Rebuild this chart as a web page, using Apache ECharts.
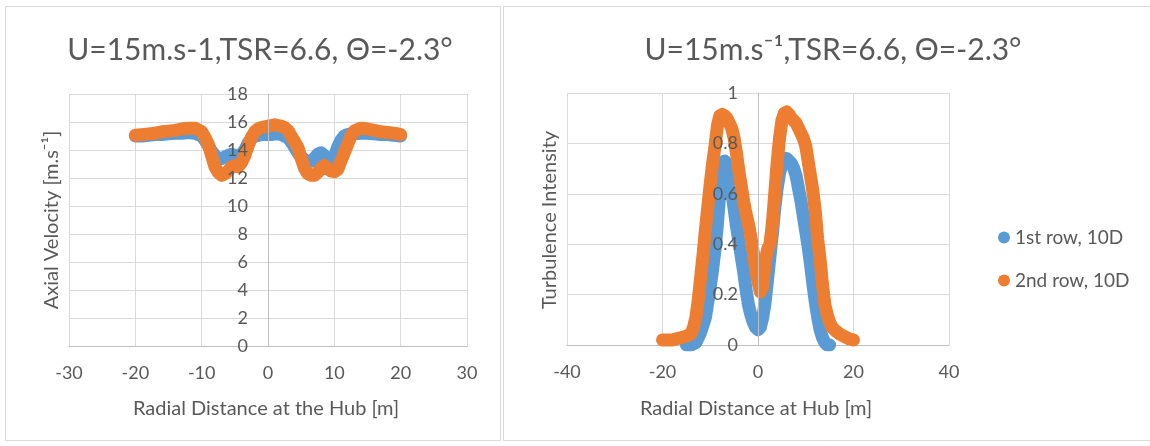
<!DOCTYPE html>
<html>
<head>
<meta charset="utf-8">
<script src="https://cdn.jsdelivr.net/npm/echarts@6/dist/echarts.min.js"></script>
<style>
html,body{margin:0;padding:0;background:#fff;}
#c{width:1150px;height:446px;}
</style>
</head>
<body>
<div id="c"></div>
<script>
// ---------- data ----------
const seriesNames = ['1st row, 10D', '2nd row, 10D'];

// Left chart: axial velocity vs radial distance
const velX = [-20,-19,-18,-17,-16,-15,-14,-13,-12,-11,
  -10,-9.5,-9,-8.5,-8,-7.5,-7,-6.5,-6,-5.5,-5,-4.5,-4,-3.5,-3,-2.5,-2,-1.5,-1,-0.5,
  0,0.5,1,1.5,2,2.5,3,3.5,4,4.5,5,5.5,6,6.5,7,7.5,8,8.5,9,9.5,10,10.5,11,11.5,12,12.5,13,
  14,15,16,17,18,19,20];
const velRow1 = [15.0,15.0,15.05,15.1,15.1,15.15,15.2,15.2,15.25,15.2,
  15.0,14.7,14.3,13.9,13.6,13.4,13.4,13.5,13.6,13.7,13.6,13.5,13.7,14.0,14.5,14.8,15.0,15.05,15.1,15.1,
  15.1,15.1,15.15,15.15,15.1,15.0,14.9,14.6,14.2,13.8,13.5,13.3,13.2,13.2,13.4,13.7,13.8,13.6,13.3,13.2,13.5,14.2,14.7,15.0,15.1,15.15,15.15,
  15.2,15.2,15.15,15.1,15.1,15.05,15.0];
const velRow2 = [15.05,15.1,15.15,15.2,15.3,15.35,15.4,15.5,15.55,15.55,
  15.3,14.9,14.4,13.6,12.8,12.4,12.2,12.3,12.5,12.8,12.9,12.8,13.1,13.6,14.3,14.9,15.3,15.5,15.6,15.65,
  15.7,15.75,15.8,15.75,15.7,15.6,15.4,15.0,14.6,14.2,13.4,12.7,12.3,12.2,12.2,12.4,12.7,12.9,12.7,12.5,12.45,12.6,13.2,13.8,14.4,15.0,15.35,
  15.55,15.5,15.4,15.3,15.25,15.2,15.1];

// Right chart: turbulence intensity vs radial distance
const tiX1 = [-15,-14.5,-14,-13.5,-13,-12.5,-12,-11.5,-11,-10.5,-10,-9.5,-9,-8.5,-8,-7.5,-7,-6.5,-6,-5.5,-5,-4.5,-4,-3.5,-3,-2.5,-2,-1.5,-1,-0.5,
  0,0.5,1,1.5,2,2.5,3,3.5,4,4.5,5,5.5,6,6.5,7,7.5,8,8.5,9,9.5,10,10.5,11,11.5,12,12.5,13,13.5,14,14.5,15];
const tiRow1 = [0,0,0,0.005,0.01,0.03,0.05,0.08,0.11,0.17,0.23,0.30,0.38,0.48,0.60,0.70,0.73,0.72,0.68,0.61,0.54,0.47,0.41,0.35,0.29,0.22,0.16,0.12,0.09,0.07,
  0.06,0.07,0.11,0.17,0.26,0.35,0.44,0.54,0.62,0.68,0.72,0.74,0.74,0.73,0.72,0.70,0.67,0.62,0.57,0.51,0.45,0.39,0.32,0.24,0.17,0.11,0.06,0.03,0.01,0,0];
const tiX2 = [-20,-19,-18,-17,-16,-15,
  -14.5,-14,-13.5,-13,-12.5,-12,-11.5,-11,-10.5,-10,-9.5,-9,-8.5,-8,-7.5,-7,-6.5,-6,-5.5,-5,-4.5,-4,-3.5,-3,-2.5,-2,-1.5,-1,-0.5,
  0,0.5,1,1.5,2,2.5,3,3.5,4,4.5,5,5.5,6,6.5,7,7.5,8,8.5,9,9.5,10,10.5,11,11.5,12,12.5,13,13.5,14,14.5,15,15.5,16,
  17,18,19,20];
const tiRow2 = [0.02,0.02,0.02,0.025,0.03,0.035,
  0.04,0.045,0.07,0.11,0.18,0.27,0.36,0.46,0.55,0.64,0.72,0.79,0.87,0.91,0.915,0.91,0.90,0.88,0.86,0.82,0.76,0.69,0.63,0.57,0.52,0.48,0.43,0.37,0.30,
  0.25,0.21,0.23,0.33,0.38,0.40,0.48,0.60,0.72,0.82,0.89,0.92,0.925,0.915,0.90,0.89,0.88,0.86,0.84,0.82,0.79,0.73,0.67,0.61,0.53,0.42,0.34,0.24,0.16,0.12,0.09,0.07,0.06,
  0.045,0.035,0.025,0.02];

const velTicks = {min: 0, max: 18, interval: 2};
const tiTicks = {min: 0, max: 1, interval: 0.2};
const velXTicks = {min: -30, max: 30, interval: 10};
const tiXTicks = {min: -40, max: 40, interval: 20};

// ---------- chart ----------
const FONT = 'Lato';
const TXT = '#595959';
const GRIDC = '#d9d9d9';
const AXISC = '#bfbfbf';
const BLUE = '#5b9bd5';
const ORANGE = '#ed7d31';

function zip(xs, ys) { return xs.map((x, i) => [x, ys[i]]); }

function xAxisCfg(idx, t) {
  return {
    type: 'value', gridIndex: idx, min: t.min, max: t.max, interval: t.interval,
    axisLine: {show: true, onZero: true, lineStyle: {color: AXISC, width: 1}},
    axisTick: {show: false},
    axisLabel: {color: TXT, fontFamily: FONT, fontSize: 18, margin: 18},
    splitLine: {show: true, lineStyle: {color: GRIDC, width: 1}}
  };
}
// main y axes: gridlines only
function yAxisCfg(idx, t) {
  return {
    type: 'value', gridIndex: idx, min: t.min, max: t.max, interval: t.interval,
    axisLine: {show: false}, axisTick: {show: false}, axisLabel: {show: false},
    splitLine: {show: true, lineStyle: {color: GRIDC, width: 1}}
  };
}
// y axes crossing at x = 0 (drawn in overlay grids that start at x = 0)
function hiddenX(idx) {
  return {type: 'value', gridIndex: idx, min: 0, max: 1, show: false};
}
function crossY(idx, t, fmt) {
  return {
    type: 'value', gridIndex: idx, min: t.min, max: t.max, interval: t.interval, position: 'left',
    z: 10,
    axisLine: {show: true, onZero: false, lineStyle: {color: AXISC, width: 1}},
    axisTick: {show: false},
    axisLabel: {color: TXT, fontFamily: FONT, fontSize: 18, margin: 20, formatter: fmt},
    splitLine: {show: false}
  };
}
function lineSeries(name, xi, data, color) {
  return {
    name: name, type: 'line', xAxisIndex: xi, yAxisIndex: xi,
    data: data, showSymbol: false, symbol: 'circle', smooth: false,
    itemStyle: {color: color},
    lineStyle: {color: color, width: 13, cap: 'round', join: 'round'},
    animation: false, z: 3
  };
}

const chart = echarts.init(document.getElementById('c'), null, {renderer: 'canvas'});
chart.setOption({
  backgroundColor: '#ffffff',
  animation: false,
  textStyle: {fontFamily: FONT},
  title: [
    {text: 'U=15m.s-1,TSR=6.6, Θ=-2.3°', left: 255, top: 45, textAlign: 'center', textVerticalAlign: 'middle',
     textStyle: {color: TXT, fontFamily: FONT, fontSize: 30, fontWeight: 'normal'}},
    {text: 'U=15m.s⁻¹,TSR=6.6, Θ=-2.3°', left: 828, top: 45, textAlign: 'center', textVerticalAlign: 'middle',
     textStyle: {color: TXT, fontFamily: FONT, fontSize: 30, fontWeight: 'normal'}}
  ],
  grid: [
    {left: 69, top: 94, width: 398, height: 252},
    {left: 567, top: 93, width: 382, height: 252},
    {left: 268, top: 94, width: 199, height: 252},
    {left: 758, top: 93, width: 191, height: 252}
  ],
  xAxis: [xAxisCfg(0, velXTicks), xAxisCfg(1, tiXTicks), hiddenX(2), hiddenX(3)],
  yAxis: [yAxisCfg(0, velTicks), yAxisCfg(1, tiTicks),
          crossY(2, velTicks), crossY(3, tiTicks, v => String(Math.round(v * 10) / 10))],
  legend: {
    orient: 'vertical', left: 993, top: 223, itemGap: 24,
    icon: 'circle', itemWidth: 12, itemHeight: 12,
    data: seriesNames,
    textStyle: {color: TXT, fontFamily: FONT, fontSize: 19}
  },
  series: [
    lineSeries(seriesNames[0], 0, zip(velX, velRow1), BLUE),
    lineSeries(seriesNames[1], 0, zip(velX, velRow2), ORANGE),
    lineSeries(seriesNames[0], 1, zip(tiX1, tiRow1), BLUE),
    lineSeries(seriesNames[1], 1, zip(tiX2, tiRow2), ORANGE)
  ],
  graphic: [
    {type: 'rect', shape: {x: 5.5, y: 6.5, width: 495, height: 434}, style: {fill: 'none', stroke: '#d9d9d9', lineWidth: 1}, silent: true, z: -1},
    {type: 'rect', shape: {x: 503.5, y: 6.5, width: 650, height: 434}, style: {fill: 'none', stroke: '#d9d9d9', lineWidth: 1}, silent: true, z: -1},
    {type: 'text', x: 266, y: 409, style: {text: 'Radial Distance at the Hub [m]', fill: TXT, font: '20px Lato', textAlign: 'center', textVerticalAlign: 'middle'}},
    {type: 'text', x: 756, y: 409, style: {text: 'Radial Distance at Hub [m]', fill: TXT, font: '20px Lato', textAlign: 'center', textVerticalAlign: 'middle'}},
    {type: 'text', x: 52, y: 220, rotation: Math.PI / 2, style: {text: 'Axial Velocity [m.s⁻¹]', fill: TXT, font: '20px Lato', textAlign: 'center', textVerticalAlign: 'middle'}},
    {type: 'text', x: 550, y: 220, rotation: Math.PI / 2, style: {text: 'Turbulence Intensity', fill: TXT, font: '20px Lato', textAlign: 'center', textVerticalAlign: 'middle'}}
  ]
});
</script>
</body>
</html>
